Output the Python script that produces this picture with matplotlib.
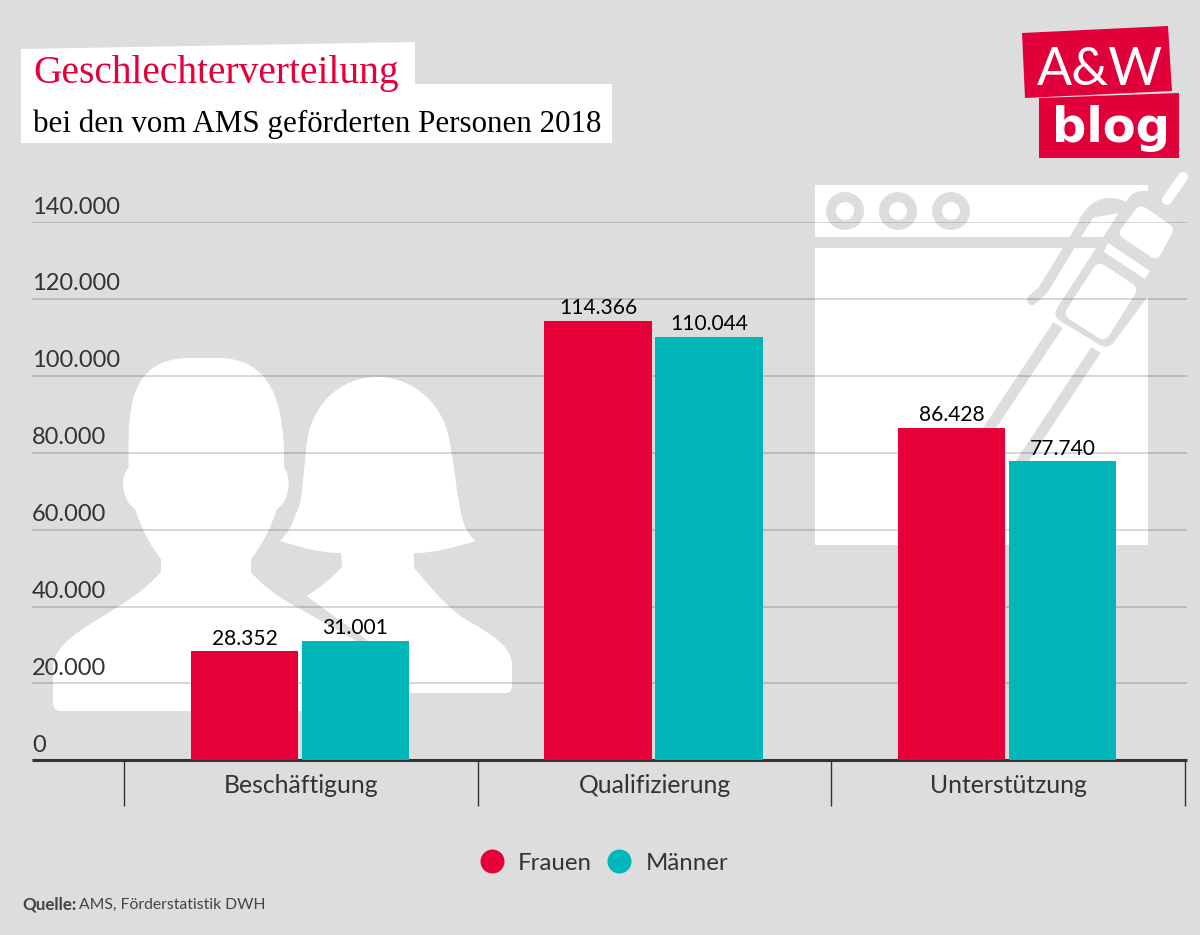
# A&W blog chart: Geschlechterverteilung AMS 2018
import numpy as np
import matplotlib
matplotlib.use('Agg')
import matplotlib.pyplot as plt
from matplotlib.lines import Line2D
from matplotlib.patches import Circle, PathPatch, Polygon, Rectangle
from matplotlib.path import Path
from matplotlib.transforms import ScaledTranslation

categories = ['Beschäftigung', 'Qualifizierung', 'Unterstützung']
frauen = [28352, 114366, 86428]
maenner = [31001, 110044, 77740]
y_ticks = [0, 20000, 40000, 60000, 80000, 100000, 120000, 140000]
group_edges = [-0.5, 0.5, 1.5, 2.5]

BG = '#dddddd'
RED = '#e6003a'
TEAL = '#00b6b8'
LOGO = '#e2003b'
TEXT = '#333333'

plt.rcParams['font.family'] = ['Lato', 'DejaVu Sans']

W, H = 1200, 935
fig = plt.figure(figsize=(W / 100, H / 100), dpi=100, facecolor=BG)


def dots(n):
    return f'{n:,.0f}'.replace(',', '.')


def px(p):
    # pixel lengths to points
    return p * 72 / 100


def shape(*segs):
    # one point = line, three points = bezier
    verts, codes = [segs[0]], [Path.MOVETO]
    for s in segs[1:]:
        if isinstance(s[0], tuple):
            verts.extend(s)
            codes.extend([Path.CURVE4] * 3)
        else:
            verts.append(s)
            codes.append(Path.LINETO)
    verts.append(segs[0])
    codes.append(Path.CLOSEPOLY)
    return Path(verts, codes)


def rounded(pts, r):
    # polygon with quadratic corners
    pts = [np.array(p, float) for p in pts]
    verts, codes = [], []
    for i, p in enumerate(pts):
        a, b = pts[i - 1], pts[(i + 1) % len(pts)]
        p1 = p + (a - p) / np.linalg.norm(a - p) * r
        p2 = p + (b - p) / np.linalg.norm(b - p) * r
        verts += [p1, p, p2]
        codes += [Path.MOVETO if i == 0 else Path.LINETO, Path.CURVE3, Path.CURVE3]
    verts.append(verts[0])
    codes.append(Path.CLOSEPOLY)
    return Path(verts, codes)


# background layer in pixel coordinates
bg = fig.add_axes([0, 0, 1, 1], zorder=0)
bg.set_xlim(0, W)
bg.set_ylim(H, 0)
bg.axis('off')

# silhouettes
man = shape((128.5, 468), (128.5, 453), ((128, 405), (132, 358), (190, 358)), (218, 358),
            ((272, 358), (283, 405), (284, 453)), (284, 468),
            ((291, 475), (291, 500), (277, 509)), ((270, 530), (262, 545), (251, 559)), (251, 572),
            ((262, 585), (278, 597), (293, 605)), (355, 640), (355, 711), (61, 711),
            ((55, 711), (53, 707), (53, 703)), (53, 668),
            ((53, 650), (70, 636), (100, 618)), ((125, 603), (145, 590), (161, 572)), (161, 559),
            ((150, 545), (142, 530), (135, 509)), ((121, 500), (120, 475), (128.5, 468)))
woman = shape((377, 377), ((340, 377), (309, 405), (306, 450)), ((303, 480), (302, 505), (296, 513)),
              ((293, 525), (286, 535), (280, 541)), ((300, 547), (320, 553), (341, 553)), (342, 567),
              ((332, 578), (320, 588), (306.5, 596)), (367, 640), (367, 693), (505, 693),
              ((510, 693), (512, 690), (512, 686)), (512, 665),
              ((512, 648), (495, 636), (470, 622)), ((445, 608), (428, 583), (414, 568)), (414, 553),
              ((435, 553), (455, 547), (476, 541)), ((468, 535), (463, 525), (461, 513)),
              ((456, 490), (455, 470), (451, 450)), ((447, 405), (414, 377), (377, 377)))
bg.add_patch(PathPatch(man, fc='white', ec='none'))
bg.add_patch(PathPatch(woman, fc='white', ec='none'))

# browser window icon
bg.add_patch(Rectangle((815, 185), 333, 52, fc='white', ec='none'))
bg.add_patch(Rectangle((815, 248), 333, 297, fc='white', ec='none'))
for cx in [845, 898, 951]:
    bg.add_patch(Circle((cx, 211), 19, fc=BG, ec='none'))
    bg.add_patch(Circle((cx, 211), 9, fc='white', ec='none'))

# pen icon
bg.plot([1058, 975], [325, 450], color=BG, lw=px(11), solid_capstyle='butt')
bg.plot([1096, 1015], [350, 472], color=BG, lw=px(11), solid_capstyle='butt')
bg.plot([1032, 1043, 1090], [300, 290, 213], color=BG, lw=px(10), solid_capstyle='round', solid_joinstyle='round')
bg.add_patch(PathPatch(shape((1090, 213), ((1098, 202), (1112, 200), (1125, 207))),
                       fc='none', ec=BG, lw=px(10)))
bg.add_patch(PathPatch(rounded([(1133, 191), (1190, 191), (1190, 240), (1108, 350), (1052, 316)], 10),
                       fc=BG, ec='none'))
bg.add_patch(PathPatch(rounded([(1140, 204), (1175, 228), (1157, 261), (1117, 234)], 7), fc='white', ec='none'))
bg.add_patch(Polygon([(1108, 243), (1150, 271), (1145, 279), (1104, 252)], fc='white', ec='none'))
bg.add_patch(PathPatch(rounded([(1098, 261), (1139, 288), (1105, 342), (1063, 315)], 8), fc='white', ec='none'))
bg.plot([1183, 1167], [177, 200], color='white', lw=px(10), solid_capstyle='round')

# header boxes
bg.add_patch(Polygon([(21, 49), (415, 42), (415, 85), (21, 85)], fc='white', ec='none'))
bg.add_patch(Polygon([(21, 84), (612, 84), (612, 143), (21, 143)], fc='white', ec='none'))
bg.text(33, 83, 'Geschlechterverteilung', color=RED, fontsize=px(39.5), family='Liberation Serif', va='baseline')
bg.text(33, 132, 'bei den vom AMS geförderten Personen 2018', color='black', fontsize=px(31),
        family='Liberation Serif', va='baseline')

# logo
bg.add_patch(Polygon([(1022, 33), (1168, 26), (1172, 91), (1025, 98)], fc=LOGO, ec='none'))
bg.add_patch(Polygon([(1039, 98), (1179, 93), (1179, 158), (1039, 158)], fc=LOGO, ec='none'))
bg.text(1100, 85, 'A&W', color='white', fontsize=px(52), family='Lato', weight='normal', ha='center', va='baseline')
bg.text(1110.5, 142, 'blog', color='white', fontsize=px(48), family='DejaVu Sans', weight='bold', ha='center', va='baseline')

# source
bg.text(22, 909, 'Quelle:', color='#444444', fontsize=px(17), weight='bold', va='baseline')
bg.text(79, 909, 'AMS, Förderstatistik DWH', color='#444444', fontsize=px(15.7), va='baseline')

# chart
ax = fig.add_axes([32 / W, 1 - 760.4 / H, 1155 / W, 538.4 / H], zorder=1)
ax.patch.set_alpha(0)
x = np.arange(len(categories)) - 0.003
bar_w = 0.303
off = 0.157
b1 = ax.bar(x - off, frauen, bar_w, color=RED, label='Frauen', zorder=3)
b2 = ax.bar(x + off, maenner, bar_w, color=TEAL, label='Männer', zorder=3)
ax.bar_label(b1, labels=[dots(v) for v in frauen], padding=2, fontsize=px(21), color='black')
ax.bar_label(b2, labels=[dots(v) for v in maenner], padding=2, fontsize=px(21), color='black')

ax.set_xlim(-0.761, 2.506)
ax.set_ylim(0, 140000)
ax.set_yticks(y_ticks)
ax.set_yticklabels([dots(v) for v in y_ticks], fontsize=px(23.6), color=TEXT, ha='left', va='bottom')
ax.tick_params(axis='y', length=0, pad=0)
# raise the tick labels off the grid lines
raise_by = ScaledTranslation(0, px(4.5) / 72, fig.dpi_scale_trans)
for lab in ax.get_yticklabels():
    lab.set_transform(lab.get_transform() + raise_by)
ax.yaxis.grid(True, color='black', alpha=0.2, lw=1.1)
ax.set_axisbelow(True)

ax.set_xticks(group_edges)
ax.set_xticklabels([])
ax.set_xticks(np.arange(len(categories)), categories, minor=True, fontsize=px(24.8), color=TEXT)
ax.tick_params(axis='x', which='major', length=px(46), width=1, color=TEXT)
ax.tick_params(axis='x', which='minor', length=0, pad=px(14))

for side in ['top', 'left', 'right']:
    ax.spines[side].set_visible(False)
ax.spines['bottom'].set_linewidth(2.2)
ax.spines['bottom'].set_color('#333333')
ax.spines['bottom'].set_capstyle('butt')

handles = [Line2D([], [], ls='none', marker='o', ms=px(24), mfc=RED, mec='none', label='Frauen'),
           Line2D([], [], ls='none', marker='o', ms=px(24), mfc=TEAL, mec='none', label='Männer')]
fig.legend(handles=handles, loc='center', bbox_to_anchor=(601.5 / W, 1 - 863 / H), ncols=2, frameon=False,
           fontsize=px(24), labelcolor=TEXT, handletextpad=0.4, columnspacing=0.42, handlelength=1.4)

fig.savefig('out.png', dpi=100, facecolor=BG)
